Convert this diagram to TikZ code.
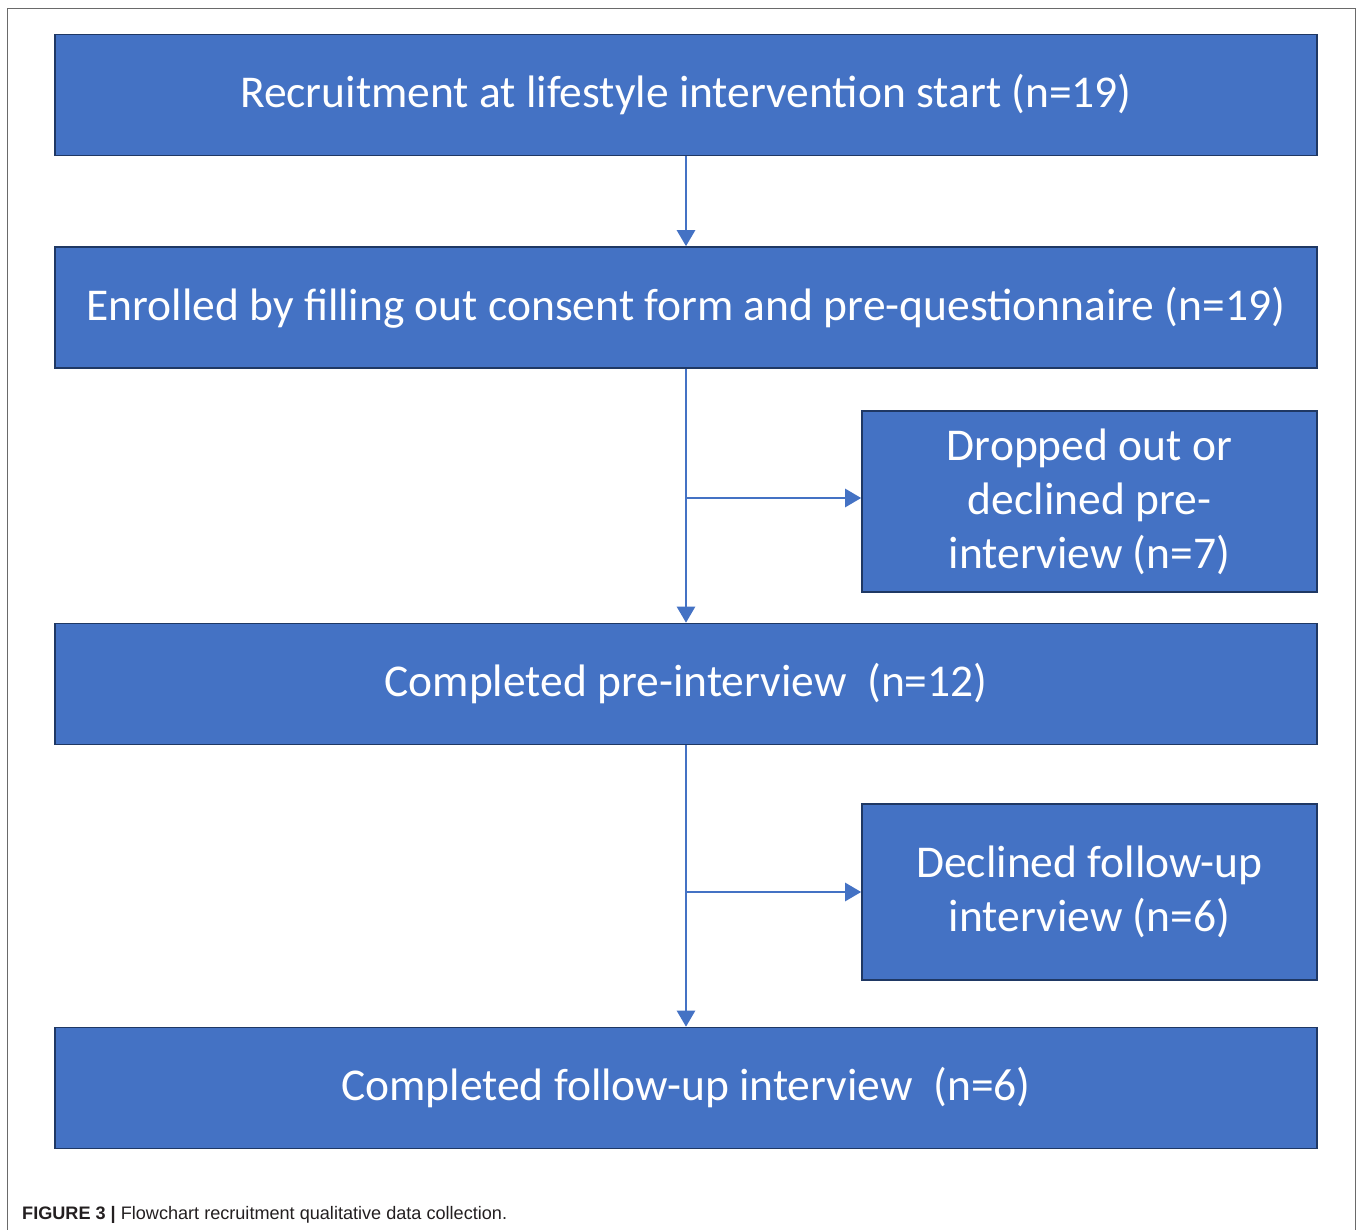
\documentclass[tikz,border=0pt]{standalone}
\usepackage{fontspec}
\setmainfont{Carlito}
\newfontfamily\capfont{Liberation Sans}
\usetikzlibrary{arrows.meta}
\definecolor{boxblue}{HTML}{4472C4}
\definecolor{boxedge}{HTML}{1F3864}
\definecolor{framegray}{HTML}{6A6A6A}
\definecolor{captext}{HTML}{231F20}
\begin{document}
\begin{tikzpicture}[x=1pt,y=-1pt,
  flowbox/.style={draw=boxedge,line width=1.6pt,fill=boxblue,text=white,
    font=\fontsize{45.5}{54}\selectfont,align=center,inner sep=0pt},
  wide/.style={flowbox,minimum width=1262pt,minimum height=121pt},
  side/.style={flowbox,minimum width=455pt},
  arr/.style={draw=boxblue,line width=2.6pt,-{Triangle[length=16pt,width=18pt]}},
  conn/.style={draw=boxblue,line width=2.6pt}]
\useasboundingbox (0,0) rectangle (1358,1230);
\draw[framegray,line width=1.5pt] (7.5,1230) -- (7.5,8.5) -- (1355.5,8.5) -- (1355.5,1230);
\node[wide] (b1) at (686,95) {Recruitment at lifestyle intervention start (n=19)};
\node[wide] (b2) at (686,307.5) {Enrolled by filling out consent form and pre-questionnaire (n=19)};
\node[side,minimum height=181pt] (s1) at (1089.5,501.5) {Dropped out or\\declined pre-\\interview (n=7)};
\node[wide] (b3) at (686,684) {Completed pre-interview\ \ (n=12)};
\node[side,minimum height=176pt] (s2) at (1089.5,892) {Declined follow-up\\interview (n=6)};
\node[wide] (b5) at (686,1088) {Completed follow-up interview\ \ (n=6)};
\coordinate (j1) at (b2.south |- 0,498);
\coordinate (j2) at (b3.south |- 0,892);
\draw[arr] (b1.south) -- (b2.north);
\draw[arr] (b2.south) -- (b3.north);
\draw[arr] (j1) -- (j1 -| s1.west);
\draw[arr] (b3.south) -- (b5.north);
\draw[arr] (j2) -- (j2 -| s2.west);
\node[anchor=base west,inner sep=0pt,text=captext,font=\capfont\fontsize{18.1}{20}\selectfont] (cap) at (22,1219) {\textbf{FIGURE 3 |} Flowchart recruitment qualitative data collection.};
\end{tikzpicture}
\end{document}
